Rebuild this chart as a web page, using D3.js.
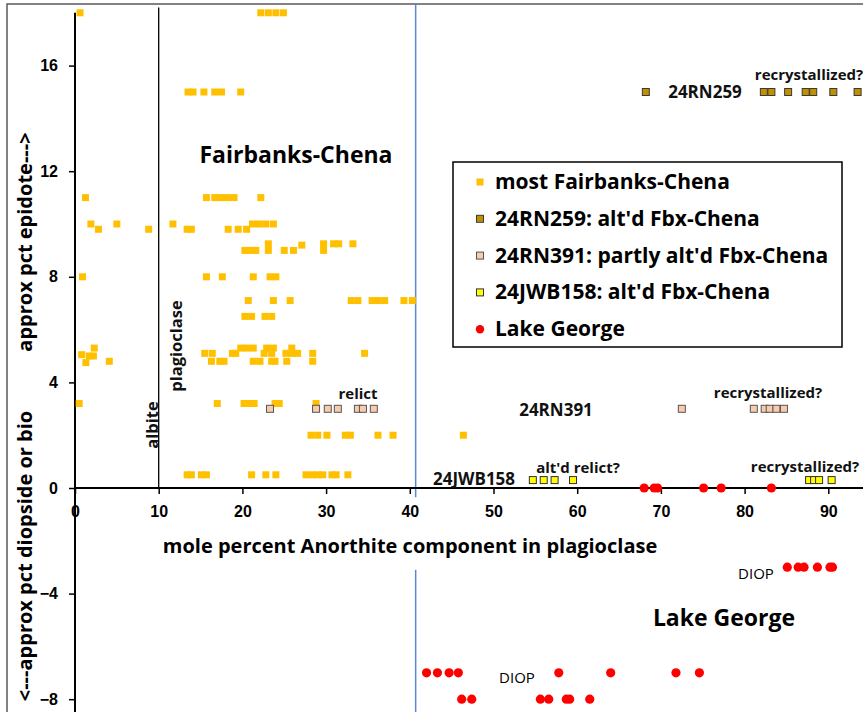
<!DOCTYPE html>
<html lang="en">
<head>
    <meta charset="UTF-8">
    <title>Anorthite vs epidote / diopside</title>
    <style>
        body { margin: 0; background: #fff; }
        svg { display: block; font-family: "Open Sans", Lato, sans-serif; }
        .tick-lbl { font-size: 16px; font-weight: 700; fill: #000; }
        .axis-title { font-size: 20px; font-weight: 700; fill: #000; }
        .note { font-size: 15px; font-weight: 700; fill: #111; }
        .id { font-size: 17px; font-weight: 700; fill: #111; }
        .big { font-size: 23px; font-weight: 700; fill: #000; }
        .leg { font-size: 21px; font-weight: 700; fill: #000; }
        .plain { font-size: 15px; fill: #000; }
        .vert { font-size: 16.5px; font-weight: 700; fill: #111; }
    </style>
</head>
<body>
<svg id="chart" width="863" height="712"></svg>
<script src="https://cdn.jsdelivr.net/npm/d3@7"></script>
<script>
// most Fairbanks-Chena
const fbxX = [0.6, 22.2, 23.1, 24.0, 24.9,
    13.5, 14.1, 15.4, 16.7, 17.5, 19.8,
    1.25, 15.7, 16.7, 17.4, 18.2, 19.0, 22.2,
    1.9, 5.0, 11.7, 21.2, 22.0, 22.8, 23.7,
    2.8, 8.8, 13.4, 13.9, 18.3, 19.5, 20.5,
    20.3, 21.0, 21.6, 23.1, 25.0, 26.1, 29.7,
    23.1, 27.1, 29.7, 30.9, 31.5, 33.2,
    0.9, 15.7, 17.6, 21.3, 23.3, 24.0,
    20.7, 23.7, 25.7, 33.0, 33.8, 35.5, 36.2, 37.0, 39.3, 40.3,
    20.3, 21.1, 22.7, 23.5,
    2.3, 19.8, 20.5, 21.3, 22.9, 23.7, 25.9,
    0.8, 1.7, 2.2, 15.5, 16.4, 18.8, 19.2, 22.6, 23.5, 25.2, 25.9, 26.6, 28.4, 34.6,
    1.3, 4.1, 16.3, 17.3, 17.8, 21.3, 22.1, 23.5, 23.9, 25.3, 28.4,
    0.5, 17.0, 20.2, 20.9, 21.4, 23.9, 24.4, 28.8,
    28.2, 29.0, 30.1, 32.3, 32.9, 36.2, 38.0, 46.4,
    13.4, 13.9, 15.1, 15.7, 21.1, 22.8, 24.0, 27.6, 28.3, 29.0, 29.6, 30.7, 31.2, 32.6];
const fbxY = [18, 18, 18, 18, 18,
    15, 15, 15, 15, 15, 15,
    11, 11, 11, 11, 11, 11, 11,
    10, 10, 10, 10, 10, 10, 10,
    9.8, 9.8, 9.8, 9.8, 9.8, 9.8, 9.8,
    9.0, 9.0, 9.0, 9.0, 9.0, 9.0, 9.0,
    9.25, 9.2, 9.25, 9.25, 9.25, 9.25,
    8, 8, 8, 8, 8, 8,
    7.1, 7.1, 7.1, 7.1, 7.1, 7.1, 7.1, 7.1, 7.1, 7.1,
    6.5, 6.5, 6.5, 6.5,
    5.3, 5.3, 5.3, 5.3, 5.3, 5.3, 5.3,
    5.05, 5.0, 5.0, 5.1, 5.1, 5.1, 5.1, 5.1, 5.1, 5.1, 5.1, 5.1, 5.1, 5.1,
    4.75, 4.8, 4.8, 4.8, 4.8, 4.8, 4.8, 4.8, 4.8, 4.8, 4.8,
    3.2, 3.2, 3.2, 3.2, 3.2, 3.2, 3.2, 3.2,
    2, 2, 2, 2, 2, 2, 2, 2,
    0.5, 0.5, 0.5, 0.5, 0.5, 0.5, 0.5, 0.5, 0.5, 0.5, 0.5, 0.5, 0.5, 0.5];

// 24RN259: alt'd Fbx-Chena
const rn259X = [68.2, 82.3, 83.2, 85.2, 87.3, 88.2, 90.6, 93.5];
const rn259Y = [15, 15, 15, 15, 15, 15, 15, 15];

// 24RN391: partly alt'd Fbx-Chena
const rn391X = [23.3, 28.8, 30.2, 31.4, 33.8, 34.4, 35.7, 72.5, 81.1, 82.4, 83.0, 83.8, 84.7];
const rn391Y = [3, 3, 3, 3, 3, 3, 3, 3, 3, 3, 3, 3, 3];

// 24JWB158: alt'd Fbx-Chena
const jwbX = [54.7, 56.0, 57.3, 59.5, 87.7, 88.3, 88.9, 90.4];
const jwbY = [0.3, 0.3, 0.3, 0.3, 0.3, 0.3, 0.3, 0.3];

// Lake George
const lgX = [68.0, 69.2, 69.6, 75.1, 77.2, 83.2,
    85.1, 86.4, 87.1, 88.7, 90.2, 90.5,
    42.0, 43.3, 44.7, 45.8, 57.8, 64.0, 71.8, 74.6,
    46.2, 47.4, 55.6, 56.6, 58.7, 59.1, 61.5];
const lgY = [0, 0, 0, 0, 0, 0,
    -3, -3, -3, -3, -3, -3,
    -7, -7, -7, -7, -7, -7, -7, -7,
    -8, -8, -8, -8, -8, -8, -8];

const xTicks = [0, 10, 20, 30, 40, 50, 60, 70, 80, 90];
const yTicks = [-8, -4, 0, 4, 8, 12, 16];

const legendNames = ["most Fairbanks-Chena", "24RN259: alt'd Fbx-Chena",
    "24RN391: partly alt'd Fbx-Chena", "24JWB158: alt'd Fbx-Chena", "Lake George"];

const svg = d3.select("#chart");

const x = d3.scaleLinear().domain([0, 100]).range([75, 912]);
const y = d3.scaleLinear().domain([-8.5, 18]).range([712.4, 12.8]);

// chart border
svg.append("rect")
   .attr("x", 7).attr("y", 4)
   .attr("width", 900).attr("height", 760)
   .attr("fill", "none").attr("stroke", "#595959").attr("stroke-width", 1.5);

// reference lines
svg.append("line")
   .attr("x1", x(10)).attr("x2", x(10))
   .attr("y1", y(18.2)).attr("y2", y(0))
   .attr("stroke", "#000").attr("stroke-width", 1.3);

svg.append("line")
   .attr("x1", x(40.7)).attr("x2", x(40.7))
   .attr("y1", y(18.35)).attr("y2", y(-0.35))
   .attr("stroke", "#5b87d6").attr("stroke-width", 1.5);
svg.append("line")
   .attr("x1", x(40.7)).attr("x2", x(40.7))
   .attr("y1", y(-3.1)).attr("y2", 712)
   .attr("stroke", "#5b87d6").attr("stroke-width", 1.5);

// axes
const xAxis = svg.append("g")
   .attr("transform", `translate(0,${y(0)})`)
   .call(d3.axisBottom(x).tickValues(xTicks).tickSize(6).tickPadding(12).tickFormat(d3.format("d")));
const yAxis = svg.append("g")
   .attr("transform", `translate(${x(0)},0)`)
   .call(d3.axisLeft(y).tickValues(yTicks).tickSize(6).tickPadding(11).tickFormat(d3.format("d")));

[xAxis, yAxis].forEach(a => {
    a.select(".domain").attr("stroke", "#000").attr("stroke-width", 2);
    a.selectAll(".tick line").attr("stroke", "#000").attr("stroke-width", 1.5);
    a.selectAll(".tick text").attr("class", "tick-lbl");
});
yAxis.select(".domain").attr("d", `M0,${y(18)}V712`);
xAxis.select(".domain").attr("d", `M${x(0)},0H863`);

// axis titles
svg.append("text").attr("class", "axis-title")
   .attr("x", 410).attr("y", 553)
   .attr("text-anchor", "middle")
   .text("mole percent Anorthite component in plagioclase");

svg.append("text").attr("class", "axis-title")
   .attr("transform", "translate(32,242) rotate(-90)")
   .attr("text-anchor", "middle")
   .text("approx  pct epidote--->");
svg.append("text").attr("class", "axis-title")
   .attr("transform", "translate(32,556) rotate(-90)")
   .attr("text-anchor", "middle")
   .text("<---approx pct diopside or bio");

// data marks
function squares(xs, ys, fill, stroke, size) {
    svg.append("g").selectAll("rect")
       .data(xs)
       .enter().append("rect")
       .attr("x", (d, i) => x(d) - size / 2)
       .attr("y", (d, i) => y(ys[i]) - size / 2)
       .attr("width", size).attr("height", size)
       .attr("fill", fill)
       .attr("stroke", stroke)
       .attr("stroke-width", stroke === "none" ? 0 : 1);
}

squares(fbxX, fbxY, "#ffc000", "none", 7);
squares(rn259X, rn259Y, "#bf9000", "#3a3a3a", 7);
squares(rn391X, rn391Y, "#f8cbad", "#555", 7);
squares(jwbX, jwbY, "#ffff00", "#333", 7);

svg.append("g").selectAll("circle")
   .data(lgX)
   .enter().append("circle")
   .attr("cx", d => x(d))
   .attr("cy", (d, i) => y(lgY[i]))
   .attr("r", 4.6)
   .attr("fill", "#ff0000");

// annotations
const notes = [
    ["Fairbanks-Chena", 296, 163, "big"],
    ["Lake George", 724, 626, "big"],
    ["relict", 358, 399, "note"],
    ["24RN391", 556, 416, "id"],
    ["recrystallized?", 768, 398, "note"],
    ["alt'd relict?", 578, 473, "note"],
    ["24JWB158", 474, 485, "id"],
    ["recrystallized?", 805, 472, "note"],
    ["24RN259", 705, 98, "id"],
    ["recrystallized?", 809, 80, "note"]
];
svg.append("g").selectAll("text")
   .data(notes)
   .enter().append("text")
   .attr("class", d => d[3])
   .attr("x", d => d[1]).attr("y", d => d[2])
   .attr("text-anchor", "middle")
   .text(d => d[0]);

svg.append("text").attr("class", "plain").attr("x", 756).attr("y", 579)
   .attr("text-anchor", "middle").attr("font-size", 14).text("DIOP");
svg.append("text").attr("class", "plain").attr("x", 517).attr("y", 683)
   .attr("text-anchor", "middle").attr("font-size", 14).text("DIOP");

svg.append("text").attr("class", "vert").attr("transform", "translate(158,425) rotate(-90)")
   .attr("text-anchor", "middle").text("albite");
svg.append("text").attr("class", "vert").attr("transform", "translate(182,346) rotate(-90)")
   .attr("text-anchor", "middle").text("plagioclase");

// legend
const legend = svg.append("g");
legend.append("rect")
   .attr("x", 453).attr("y", 162)
   .attr("width", 389).attr("height", 185)
   .attr("fill", "#fff").attr("stroke", "#000").attr("stroke-width", 1.5);

const legRows = legend.selectAll("g.row")
   .data(legendNames)
   .enter().append("g")
   .attr("class", "row")
   .attr("transform", (d, i) => `translate(480,${182 + i * 36.8})`);

const legFill = ["#ffc000", "#bf9000", "#f8cbad", "#ffff00"];
const legStroke = ["none", "#3a3a3a", "#555", "#333"];
legRows.filter((d, i) => i < 4).append("rect")
   .attr("x", -3.5).attr("y", -3.5).attr("width", 7).attr("height", 7)
   .attr("fill", (d, i) => legFill[i])
   .attr("stroke", (d, i) => legStroke[i])
   .attr("stroke-width", (d, i) => i === 0 ? 0 : 1);
legRows.filter((d, i) => i === 4).append("circle")
   .attr("r", 4.2).attr("fill", "#ff0000");
legRows.append("text")
   .attr("class", "leg")
   .attr("x", 15).attr("y", 7)
   .text(d => d);
</script>
</body>
</html>
